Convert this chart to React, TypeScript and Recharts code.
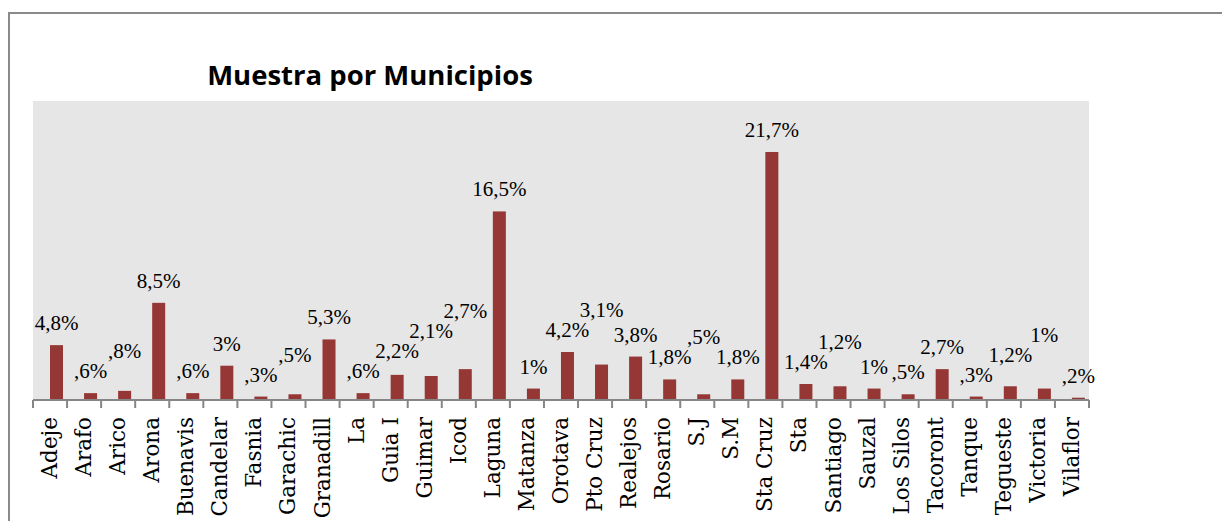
import React from 'react';
import { BarChart, Bar, XAxis, YAxis, CartesianGrid, LabelList } from 'recharts';

const municipios = [
  'Adeje', 'Arafo', 'Arico', 'Arona', 'Buenavis', 'Candelar', 'Fasnia', 'Garachic',
  'Granadill', 'La', 'Guia I', 'Guimar', 'Icod', 'Laguna', 'Matanza', 'Orotava',
  'Pto Cruz', 'Realejos', 'Rosario', 'S.J', 'S.M', 'Sta Cruz', 'Sta', 'Santiago',
  'Sauzal', 'Los Silos', 'Tacoront', 'Tanque', 'Tegueste', 'Victoria', 'Vilaflor',
];
const porcentajes = [
  4.8, 0.6, 0.8, 8.5, 0.6, 3, 0.3, 0.5,
  5.3, 0.6, 2.2, 2.1, 2.7, 16.5, 1, 4.2,
  3.1, 3.8, 1.8, 0.5, 1.8, 21.7, 1.4, 1.2,
  1, 0.5, 2.7, 0.3, 1.2, 1, 0.2,
];
const titulo = 'Muestra por Municipios';

const data = municipios.map((m, i) => ({ name: m, value: porcentajes[i] }));

const W = 1222;
const H = 521;
const LEFT = 33;
const RIGHT = 1089;
const TOP = 101;
const BOTTOM = 400;
const Y_MAX = 26.16;
const BAND = (RIGHT - LEFT) / municipios.length;
const SHIFT = 6;
const BAR_COLOR = '#953735';
const AXIS_COLOR = '#868686';
const LABEL_FONT = 21;
const LABEL_GAP = 15;
const LABEL_H = 17;

const fmt = (v: number) => {
  const s = String(v).replace('.', ',');
  return (v < 1 ? s.replace(/^0/, '') : s) + '%';
};

// approximate label width (Liberation Serif metrics) to stagger overlapping labels
const labelWidth = (t: string) =>
  t.split('').reduce((w, c) => w + (c === '%' ? 0.833 : c === ',' ? 0.25 : 0.5), 0) * LABEL_FONT;

// extra raise for labels that would collide with their left neighbour
const raise: number[] = (() => {
  const pxPer = (BOTTOM - TOP) / Y_MAX;
  const out: number[] = [];
  let prev: { l: number; r: number; top: number; bottom: number } | null = null;
  porcentajes.forEach((v, i) => {
    const cx = LEFT + BAND * (i + 0.5) + SHIFT;
    const w = labelWidth(fmt(v));
    let base = BOTTOM - v * pxPer - LABEL_GAP;
    let extra = 0;
    if (prev && cx - w / 2 < prev.r + 2 && base > prev.top - 2 && base - LABEL_H < prev.bottom) {
      const target = prev.top - 3;
      extra = base - target;
      base = target;
    }
    out.push(extra);
    prev = { l: cx - w / 2, r: cx + w / 2, top: base - LABEL_H, bottom: base };
  });
  return out;
})();

const Tick = (props: any) => {
  const { x, index, payload } = props;
  const last = index === municipios.length - 1;
  return (
    <g>
      <line x1={x - BAND / 2} x2={x - BAND / 2} y1={BOTTOM} y2={BOTTOM + 8} stroke={AXIS_COLOR} strokeWidth={2} />
      {last && (
        <line x1={x + BAND / 2} x2={x + BAND / 2} y1={BOTTOM} y2={BOTTOM + 8} stroke={AXIS_COLOR} strokeWidth={2} />
      )}
      <text
        transform={`translate(${x + 7},${BOTTOM + 17}) rotate(-90)`}
        textAnchor="end"
        fontFamily="'DejaVu Serif', serif"
        fontSize={21.5}
        fill="#000"
      >
        {payload.value}
      </text>
    </g>
  );
};

const BarShape = (props: any) => {
  const { x, y, width, height } = props;
  return <rect x={x + SHIFT} y={y} width={width} height={height} fill={BAR_COLOR} />;
};

const Label = (props: any) => {
  const { x, y, width, value, index } = props;
  return (
    <text
      x={x + width / 2 + SHIFT}
      y={y - LABEL_GAP - (raise[index] || 0)}
      textAnchor="middle"
      fontFamily="'Liberation Serif', serif"
      fontSize={LABEL_FONT}
      fill="#000"
    >
      {fmt(value)}
    </text>
  );
};

export default function App() {
  return (
    <div style={{ position: 'fixed', left: 0, top: 0, width: W, height: H, overflow: 'hidden', background: '#fff' }}>
      <div
        style={{
          position: 'absolute', left: 8, top: 12, width: 1300, height: 600,
          border: '2px solid #8a8a8a', boxSizing: 'border-box',
        }}
      />
      <div
        style={{
          position: 'absolute', left: 170, top: 61, width: 400, textAlign: 'center',
          fontFamily: "'Open Sans', sans-serif", fontWeight: 700, fontSize: 27.5, lineHeight: '27px', color: '#000',
        }}
      >
        {titulo}
      </div>
      <div style={{ position: 'absolute', left: 0, top: 0 }}>
        <BarChart
          width={W}
          height={H}
          data={data}
          margin={{ left: LEFT, right: W - RIGHT, top: TOP, bottom: 0 }}
          barSize={13}
        >
          <CartesianGrid stroke="none" fill="#e6e6e6" horizontal={false} vertical={false} />
          <YAxis hide width={0} domain={[0, Y_MAX]} />
          <XAxis
            dataKey="name"
            interval={0}
            height={H - BOTTOM}
            tickLine={false}
            tickSize={0}
            tickMargin={0}
            axisLine={{ stroke: AXIS_COLOR, strokeWidth: 2 }}
            tick={<Tick />}
          />
          <Bar dataKey="value" fill={BAR_COLOR} shape={<BarShape />} isAnimationActive={false}>
            <LabelList dataKey="value" content={<Label />} />
          </Bar>
        </BarChart>
      </div>
    </div>
  );
}
